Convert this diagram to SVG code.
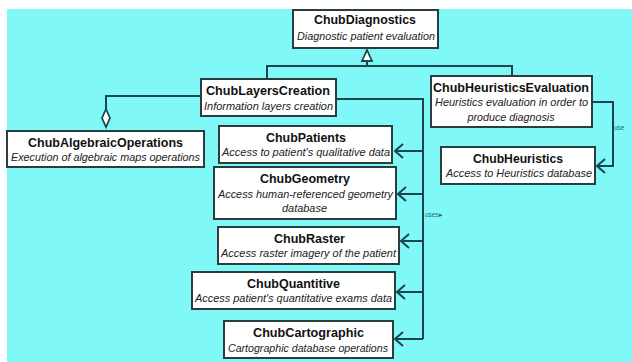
<svg xmlns="http://www.w3.org/2000/svg" width="632" height="362" viewBox="0 0 632 362">
  <style>
    .box { fill: #ffffff; stroke: #2b3d3f; stroke-width: 2; }
    .title { font-family: "Liberation Sans", Arial, sans-serif; font-weight: bold; font-size: 13.5px; fill: #111; text-anchor: middle; }
    .sub { font-family: "Liberation Sans", Arial, sans-serif; font-style: italic; font-size: 11px; fill: #222; text-anchor: middle; }
    .wire { fill: none; stroke: #1a474d; stroke-width: 2; }
    .head { fill: none; stroke: #1a474d; stroke-width: 2; stroke-linejoin: miter; }
    .lbl { font-family: "Liberation Sans", Arial, sans-serif; font-size: 6.5px; fill: #1d6a70; }
  </style>
  <defs>
    <marker id="open" viewBox="0 0 10 16" refX="9" refY="8" markerWidth="10" markerHeight="16" markerUnits="userSpaceOnUse" orient="auto">
      <path d="M1,1 L9,8 L1,15" class="head"/>
    </marker>
  </defs>

  <rect x="0" y="0" width="632" height="362" fill="#ffffff"/>
  <rect x="7" y="9" width="625" height="353" fill="#80f8f8"/>

  <g id="connectors">
    <!-- generalization to ChubDiagnostics -->
    <path class="wire" d="M267,79 V66 H512 V76"/>
    <path class="wire" d="M367,66 V61"/>
    <path d="M367,50 L372,61 L362,61 Z" fill="#ffffff" stroke="#1a474d" stroke-width="1.8"/>
    <!-- aggregation with ChubAlgebraicOperations -->
    <path class="wire" d="M201,96 H106 V109"/>
    <path d="M106,109 L110,118 L106,127 L102,118 Z" fill="#ffffff" stroke="#1a474d" stroke-width="1.8"/>
    <!-- uses: layers creation to data access classes -->
    <path class="wire" d="M336,99 H423 V339"/>
    <path class="wire" d="M423,151 H395" marker-end="url(#open)"/>
    <path class="wire" d="M423,194 H398" marker-end="url(#open)"/>
    <path class="wire" d="M423,241 H401" marker-end="url(#open)"/>
    <path class="wire" d="M423,292 H397" marker-end="url(#open)"/>
    <path class="wire" d="M423,339 H395" marker-end="url(#open)"/>
    <text class="lbl" x="425" y="217">uses▸</text>
    <!-- uses: heuristics evaluation to heuristics -->
    <path class="wire" d="M592,102 H613 V166 H597" marker-end="url(#open)"/>
    <text class="lbl" x="614" y="130">use</text>
  </g>

  <g id="ChubDiagnostics">
    <rect class="box" x="293" y="10" width="145" height="38"/>
    <text class="title" x="365" y="24" textLength="102" lengthAdjust="spacingAndGlyphs">ChubDiagnostics</text>
    <text class="sub" x="366" y="40" textLength="138" lengthAdjust="spacingAndGlyphs">Diagnostic patient evaluation</text>
  </g>

  <g id="ChubLayersCreation">
    <rect class="box" x="201" y="79" width="135" height="37"/>
    <text class="title" x="268" y="95" textLength="124" lengthAdjust="spacingAndGlyphs">ChubLayersCreation</text>
    <text class="sub" x="268.5" y="110" textLength="129" lengthAdjust="spacingAndGlyphs">Information layers creation</text>
  </g>

  <g id="ChubHeuristicsEvaluation">
    <rect class="box" x="431" y="76" width="161" height="51"/>
    <text class="title" x="511" y="91.5" textLength="156" lengthAdjust="spacingAndGlyphs">ChubHeuristicsEvaluation</text>
    <text class="sub" x="511.5" y="106" textLength="153" lengthAdjust="spacingAndGlyphs">Heuristics evaluation in order to</text>
    <text class="sub" x="511" y="121" textLength="87" lengthAdjust="spacingAndGlyphs">produce diagnosis</text>
  </g>

  <g id="ChubAlgebraicOperations">
    <rect class="box" x="7" y="131" width="197" height="36"/>
    <text class="title" x="105.5" y="146.5" textLength="155" lengthAdjust="spacingAndGlyphs">ChubAlgebraicOperations</text>
    <text class="sub" x="105.5" y="161" textLength="189" lengthAdjust="spacingAndGlyphs">Execution of algebraic maps operations</text>
  </g>

  <g id="ChubPatients">
    <rect class="box" x="219" y="126" width="173" height="37"/>
    <text class="title" x="306" y="141.5" textLength="80" lengthAdjust="spacingAndGlyphs">ChubPatients</text>
    <text class="sub" x="306" y="156" textLength="168" lengthAdjust="spacingAndGlyphs">Access to patient's qualitative data</text>
  </g>

  <g id="ChubGeometry">
    <rect class="box" x="214" y="167" width="182" height="52"/>
    <text class="title" x="305" y="182.5" textLength="90" lengthAdjust="spacingAndGlyphs">ChubGeometry</text>
    <text class="sub" x="305.5" y="198" textLength="175" lengthAdjust="spacingAndGlyphs">Access human-referenced geometry</text>
    <text class="sub" x="304.5" y="212" textLength="45" lengthAdjust="spacingAndGlyphs">database</text>
  </g>

  <g id="ChubRaster">
    <rect class="box" x="218" y="227" width="181" height="37"/>
    <text class="title" x="309.5" y="242.5" textLength="71" lengthAdjust="spacingAndGlyphs">ChubRaster</text>
    <text class="sub" x="308.5" y="257" textLength="175" lengthAdjust="spacingAndGlyphs">Access raster imagery of the patient</text>
  </g>

  <g id="ChubQuantitive">
    <rect class="box" x="192" y="272" width="203" height="37"/>
    <text class="title" x="293.5" y="287.5" textLength="93" lengthAdjust="spacingAndGlyphs">ChubQuantitive</text>
    <text class="sub" x="293.5" y="302" textLength="197" lengthAdjust="spacingAndGlyphs">Access patient's quantitative exams data</text>
  </g>

  <g id="ChubCartographic">
    <rect class="box" x="224" y="321" width="169" height="37"/>
    <text class="title" x="308.5" y="336.5" textLength="111" lengthAdjust="spacingAndGlyphs">ChubCartographic</text>
    <text class="sub" x="308" y="352" textLength="160" lengthAdjust="spacingAndGlyphs">Cartographic database operations</text>
  </g>

  <g id="ChubHeuristics">
    <rect class="box" x="441" y="147" width="154" height="37"/>
    <text class="title" x="518" y="162.5" textLength="90" lengthAdjust="spacingAndGlyphs">ChubHeuristics</text>
    <text class="sub" x="519" y="177" textLength="146" lengthAdjust="spacingAndGlyphs">Access to Heuristics database</text>
  </g>
</svg>
